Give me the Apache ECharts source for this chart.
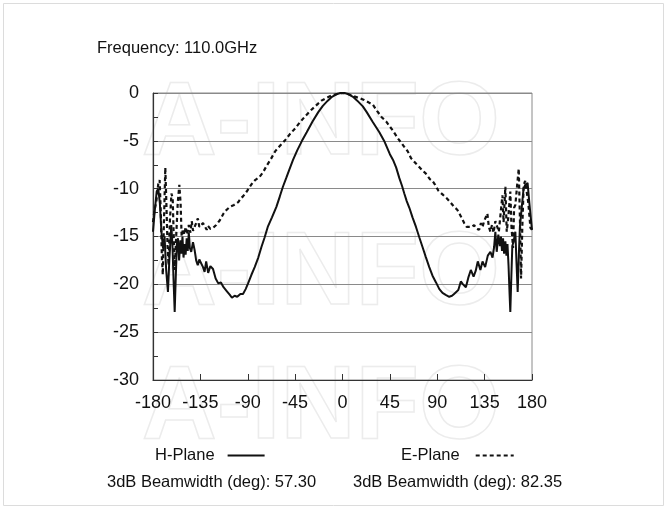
<!DOCTYPE html>
<html>
<head>
<meta charset="utf-8">
<script src="https://cdn.jsdelivr.net/npm/echarts@6/dist/echarts.min.js"></script>
<style>
html,body{margin:0;padding:0;background:#fff;}
#chart{width:668px;height:509px;}
</style>
</head>
<body>
<div id="chart"></div>
<script>
// ---- Data ----
const titleText = 'Frequency: 110.0GHz';
const seriesNames = ['H-Plane', 'E-Plane'];
const beamwidthTexts = ['3dB Beamwidth (deg): 57.30', '3dB Beamwidth (deg): 82.35'];
const xTicks = [-180, -135, -90, -45, 0, 45, 90, 135, 180];
const yTicks = [0, -5, -10, -15, -20, -25, -30];

// H-Plane (solid)
const hAngles = [
  -180, -178.5, -176.5, -175, -173.5, -172, -170.5, -169, -167.5, -165.8, -164.5, -162.6, -161.5, -160.5,
  -159.4, -158.3, -157.2, -156.3, -155.2, -154, -153, -152, -151, -150, -149, -148, -147, -146, -145,
  -143.7, -142, -140.5, -139, -137.5, -136, -134.2, -132.5, -131, -129.5, -127.6, -125.5, -123, -120.5,
  -118, -115.5, -113, -110, -107, -105, -102.5, -100, -97, -94.5, -92, -89.7, -86.5, -83.4, -80, -77,
  -74, -71, -67, -62.8, -59.5, -56.6, -53.5, -50.5, -47, -43, -38.5, -34, -28.6, -23, -18.7, -14, -10,
  -5, -2, 0, 2, 5, 10, 14, 19.3, 23, 28.6, 35, 40, 45, 48, 51, 54, 56.5, 58.7, 61, 63.5, 66.5, 69.8,
  73, 76, 79, 82.4, 85.5, 88.8, 92, 95, 98, 101.4, 104, 106, 107.7, 110, 112.4, 114.5, 117.2, 119.5,
  121.9, 124.5, 126.5, 128.5, 131, 133, 135.5, 138, 140.5, 142.5, 144, 145.2, 146.5, 148, 149.5, 150.5,
  151.5, 152.5, 153.5, 154.7, 155.7, 156.7, 157.7, 158.7, 159.4, 160.3, 161.3, 162.6, 164.2, 165.2,
  166.4, 167.5, 168.5, 170.5, 172, 173.6, 175.8, 177.5, 180
];
const hValues = [
  -14.5, -12.5, -10.3, -10.0, -11.5, -14.5, -16.2, -15.0, -18.5, -20.8, -17.5, -13.8, -16.0, -19.5,
  -22.9, -19.0, -15.5, -15.2, -17.5, -15.4, -16.8, -15.0, -17.2, -15.8, -16.9, -15.2, -16.5, -14.6, -16.2,
  -16.6, -15.6, -16.4, -17.5, -18.0, -17.4, -17.2, -18.2, -18.7, -17.6, -18.8, -18.1, -18.4, -19.4,
  -19.9, -19.8, -20.3, -20.7, -21.1, -21.4, -21.2, -21.3, -21.0, -21.0, -20.5, -19.9, -19.0, -18.2, -17.2, -16.1,
  -15.1, -14.0, -13.0, -11.9, -10.8, -9.8, -8.9, -8.0, -7.0, -6.0, -5.0, -4.1, -3.0, -2.0, -1.35, -0.8, -0.4,
  -0.1, 0, 0, 0, -0.1, -0.4, -0.8, -1.4, -2.0, -3.0, -4.1, -5.1, -6.4, -7.0, -7.8, -8.9, -9.7, -10.5, -11.3, -12.0, -13.0, -14.0,
  -15.1, -16.1, -17.1, -18.2, -19.1, -19.8, -20.5, -20.9, -21.1, -21.3, -21.2, -21.0, -20.9, -20.6, -19.7, -20.0, -20.3, -19.3,
  -18.5, -19.2, -18.6, -17.6, -18.5, -17.6, -18.2, -17.0, -16.6, -17.2, -16.1, -14.5, -16.6, -14.8, -16.0, -15.0,
  -16.5, -15.2, -16.8, -15.5, -17.0, -15.8, -18.0, -21.0, -22.9, -19.5, -16.0, -15.5, -14.5, -17.5,
  -20.8, -17.0, -14.0, -11.7, -10.0, -9.6, -9.4, -11.5, -14.3
];

// E-Plane (dashed)
const eAngles = [
  -180, -178.5, -176.9, -175, -173.7, -172.6, -171.6, -170.7, -169.6, -168.3, -167.3, -166.2, -165.2, -164,
  -162.5, -161.3, -160.3, -159.3, -158, -156.5, -155, -153.8, -152.8, -151.5, -150.3, -149, -147.5, -146,
  -144.5, -143.2, -142, -140.5, -139, -137.4, -136, -134.2, -132.5, -131, -129, -127.8, -125.5, -122.9,
  -120, -116.5, -113, -110, -107, -103, -99, -96.5, -94.5, -91, -88, -85.5, -83, -79, -75.5, -72, -68,
  -64, -60, -55, -50, -45, -40.7, -36, -30, -25, -20, -15, -10, -5, 0, 5, 10, 15, 20, 25, 28.7, 33, 37,
  41.6, 47.6, 53, 58.5, 62, 65, 70, 76, 79, 83, 85.5, 88, 91, 95, 99, 103, 106, 109, 112, 115.6, 118,
  120.3, 123, 125, 127.5, 129.8, 131.5, 133, 134.5, 136, 137.6, 139, 140.5, 142, 143.5, 145.2, 147, 148.5,
  150, 151.9, 153, 154.7, 156, 157.5, 159.4, 160.5, 162, 163, 164.2, 166, 167.4, 168.5, 169.6, 170.8,
  172.1, 173.5, 174.6, 176.5, 178.5, 180
];
const eValues = [
  -13.5, -12.2, -11.4, -9.5, -9.1, -12.5, -17.0, -19.0, -13.5, -7.8, -11.5, -16.0, -18.0, -13.5,
  -10.5, -11.0, -15.0, -18.5, -15.0, -11.5, -9.6, -11.5, -15.0, -14.2, -14.8, -14.0, -14.8, -13.8,
  -14.6, -13.4, -14.4, -14.6, -13.6, -13.1, -14.0, -14.0, -13.6, -13.9, -14.3, -13.9, -14.2, -14.1,
  -13.8, -13.3, -12.6, -12.2, -11.9, -11.7, -11.4, -11.0, -10.8, -10.3, -9.8, -9.4, -9.1, -8.8, -8.3, -7.6, -6.9,
  -6.1, -5.6, -5.0, -4.3, -3.7, -3.1, -2.5, -1.8, -1.3, -0.8, -0.5, -0.25, -0.1, 0, -0.1, -0.3, -0.5, -0.7, -1.0, -1.2, -1.9, -2.5,
  -3.0, -3.9, -4.8, -5.6, -6.1, -6.8, -7.4, -8.1, -8.4, -9.0, -9.2, -9.6, -10.2, -10.6, -11.0, -11.5, -11.9, -12.2, -12.8, -13.6, -14.0,
  -14.0, -14.0, -13.8, -14.2, -14.3, -13.6, -14.0, -13.4, -13.6, -12.6, -14.0, -14.5, -13.8, -14.6, -13.4, -13.6, -14.5,
  -12.8, -10.7, -13.5, -9.8, -14.5, -13.0, -10.3, -14.0, -16.2, -12.0, -11.7, -9.5, -7.9, -13.0, -19.4, -14.0,
  -9.6, -9.2, -9.4, -11.5, -14.1, -14.3
];

const hData = hAngles.map((a, i) => [a, hValues[i]]);
const eData = eAngles.map((a, i) => [a, eValues[i]]);

const FONT = '"Liberation Sans", Arial, sans-serif';
const chart = echarts.init(document.getElementById('chart'), null, {renderer: 'canvas'});

const watermark = [73, 223, 357].map(t => ({
  type: 'text', left: 141, top: t, z: -10, silent: true,
  style: {text: 'A-INFO', font: 'bold 104px ' + FONT, fill: 'rgba(0,0,0,0)', stroke: '#ececec', lineWidth: 1.5}
}));

const legendCommon = {
  top: 447, align: 'right', itemHeight: 12, padding: 0, selectedMode: false,
  itemStyle: {opacity: 0, color: 'rgba(0,0,0,0)', borderWidth: 0}
};

chart.setOption({
  backgroundColor: '#fff',
  animation: false,
  grid: {left: 153, right: 136, top: 93, bottom: 129, show: true, borderColor: '#8a8a8a', borderWidth: 1, containLabel: false},
  xAxis: {
    type: 'value', min: xTicks[0], max: xTicks[xTicks.length - 1], interval: 45,
    axisLine: {show: true, onZero: false, lineStyle: {color: '#333', width: 1.2}},
    axisTick: {show: true, inside: true, length: 6, lineStyle: {color: '#333'}},
    axisLabel: {fontSize: 18, fontFamily: FONT, color: '#111', margin: 14},
    splitLine: {show: false}
  },
  yAxis: {
    type: 'value', min: yTicks[yTicks.length - 1], max: yTicks[0], interval: 5,
    axisLine: {show: true, onZero: false, lineStyle: {color: '#333', width: 1.2}},
    axisTick: {show: true, inside: true, length: 5, lineStyle: {color: '#333'}},
    minorTick: {show: true, splitNumber: 2, length: 5, lineStyle: {color: '#333'}},
    axisLabel: {fontSize: 18, fontFamily: FONT, color: '#111', margin: 14},
    splitLine: {show: true, lineStyle: {color: '#8a8a8a', width: 1}}
  },
  legend: [
    Object.assign({}, legendCommon, {data: [seriesNames[0]], left: 155, itemWidth: 37,
      textStyle: {fontSize: 16.5, fontFamily: FONT, color: '#111', padding: [0, 8, 0, 0]}}),
    Object.assign({}, legendCommon, {data: [seriesNames[1]], left: 401, itemWidth: 38,
      textStyle: {fontSize: 16.5, fontFamily: FONT, color: '#111', padding: [0, 11, 0, 0]}})
  ],
  graphic: [
    ...watermark,
    {type: 'rect', left: 3, top: 3, z: -20, silent: true, shape: {width: 660, height: 502},
     style: {fill: 'rgba(0,0,0,0)', stroke: '#dcdcdc', lineWidth: 1}},
    {type: 'text', left: 97, top: 40, style: {text: titleText, font: '16.5px ' + FONT, fill: '#111'}},
    {type: 'text', left: 107, top: 474, style: {text: beamwidthTexts[0], font: '16.5px ' + FONT, fill: '#111'}},
    {type: 'text', left: 353, top: 474, style: {text: beamwidthTexts[1], font: '16.5px ' + FONT, fill: '#111'}}
  ],
  series: [
    {name: seriesNames[0], type: 'line', data: hData, symbol: 'none', smooth: false,
     lineStyle: {color: '#111', width: 2, type: 'solid'}, itemStyle: {color: '#111'}},
    {name: seriesNames[1], type: 'line', data: eData, symbol: 'none', smooth: false,
     lineStyle: {color: '#111', width: 2.2, type: [4, 3]}, itemStyle: {color: '#111'}}
  ]
});
</script>
</body>
</html>
